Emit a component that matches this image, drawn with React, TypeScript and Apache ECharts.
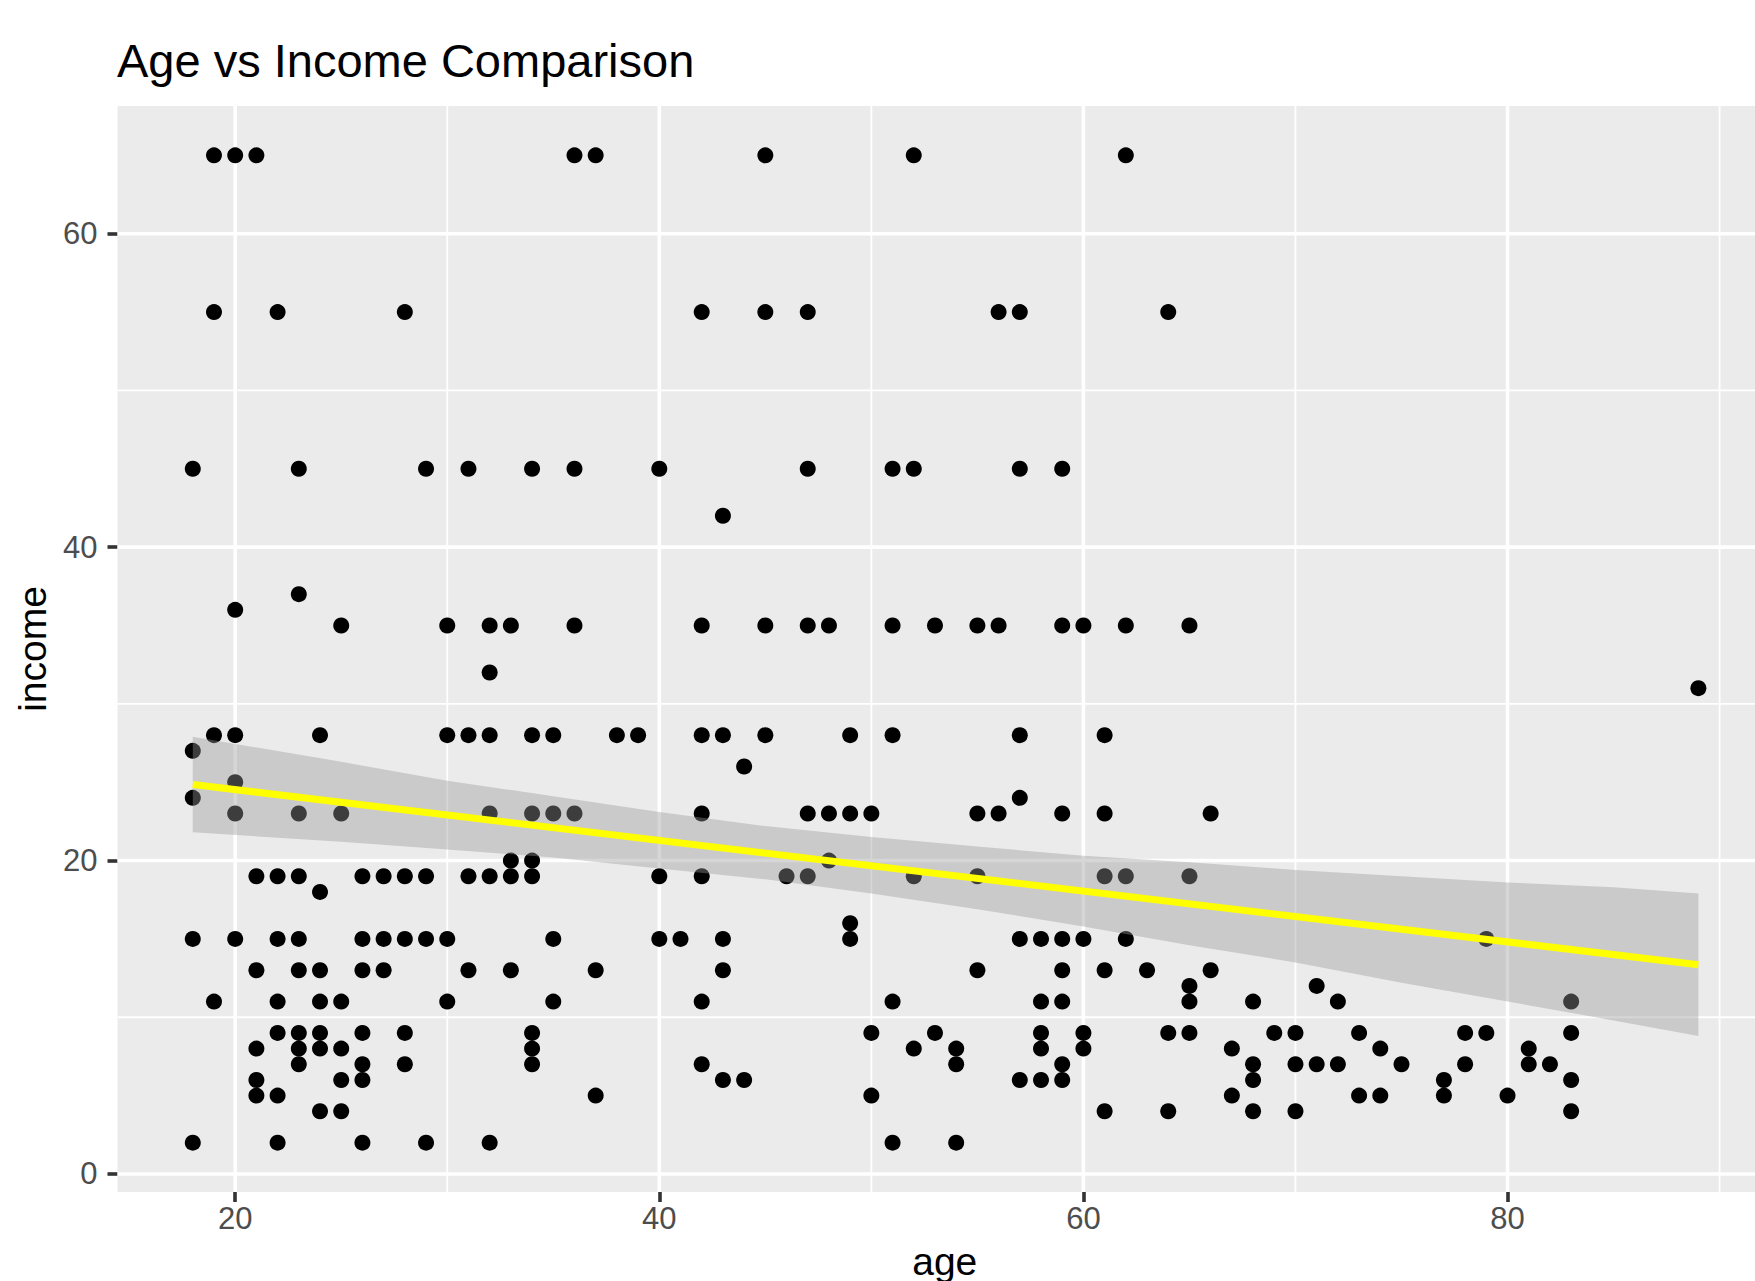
import React, { useEffect, useRef } from "react";
import * as echarts from "echarts";

// Observations, grouped by income level: each list holds the ages seen at that income.
const incomeLevels: number[] = [65, 55, 45, 42, 37, 36, 35, 32, 31, 28, 27, 26, 25, 24, 23, 20, 19, 18, 16, 15, 13, 12, 11, 9, 8, 7, 6, 5, 4, 2];
const agesByIncome: number[][] = [
  [19, 20, 21, 36, 37, 45, 52, 62],
  [19, 22, 28, 42, 45, 47, 56, 57, 64],
  [18, 23, 29, 31, 34, 36, 40, 47, 51, 52, 57, 59],
  [43],
  [23],
  [20],
  [25, 30, 32, 33, 36, 42, 45, 47, 48, 51, 53, 55, 56, 59, 60, 62, 65],
  [32],
  [89],
  [19, 20, 24, 30, 31, 32, 34, 35, 38, 39, 42, 43, 45, 49, 51, 57, 61],
  [18],
  [44],
  [20],
  [18, 57],
  [20, 23, 25, 32, 34, 35, 36, 42, 47, 48, 49, 50, 55, 56, 59, 61, 66],
  [33, 34, 48],
  [21, 22, 23, 26, 27, 28, 29, 31, 32, 33, 34, 40, 42, 46, 47, 52, 55, 61, 62, 65],
  [24],
  [49],
  [18, 20, 22, 23, 26, 27, 28, 29, 30, 35, 40, 41, 43, 49, 57, 58, 59, 60, 62, 79],
  [21, 23, 24, 26, 27, 31, 33, 37, 43, 55, 59, 61, 63, 66],
  [65, 71],
  [19, 22, 24, 25, 30, 35, 42, 51, 58, 59, 65, 68, 72, 83],
  [22, 23, 24, 26, 28, 34, 50, 53, 58, 60, 64, 65, 69, 70, 73, 78, 79, 83],
  [21, 23, 24, 25, 34, 52, 54, 58, 60, 67, 74, 81],
  [23, 26, 28, 34, 42, 54, 59, 68, 70, 71, 72, 75, 78, 81, 82],
  [21, 25, 26, 43, 44, 57, 58, 59, 68, 77, 83],
  [21, 22, 37, 50, 67, 73, 74, 77, 80],
  [24, 25, 61, 64, 68, 70, 83],
  [18, 22, 26, 29, 32, 51, 54],
];

// Linear fit (income ~ age) and its confidence band.
const fitAges: number[] = [18, 89];
const fitIncome: number[] = [24.85, 13.35];
const bandAges: number[] = [18, 25, 30, 35, 40, 45, 50, 55, 60, 65, 70, 75, 80, 85, 89];
const bandUpper: number[] = [27.9, 26.3, 25.1, 24.1, 23.1, 22.2, 21.5, 20.9, 20.3, 19.9, 19.4, 19.0, 18.6, 18.3, 17.9];
const bandLower: number[] = [21.8, 21.2, 20.7, 20.2, 19.5, 18.8, 17.9, 16.9, 15.8, 14.6, 13.5, 12.2, 11.0, 9.8, 8.8];

// Axis breaks.
const ageTicks: number[] = [20, 40, 60, 80];
const ageMinor: number[] = [30, 50, 70, 90];
const incomeTicks: number[] = [0, 20, 40, 60];
const incomeMinor: number[] = [10, 30, 50];

const FONT = "'Liberation Sans', Arial, Helvetica, sans-serif";

function gridLineSeries(values: number[], dir: "x" | "y", width: number) {
  return {
    type: "custom",
    silent: true,
    z: 1,
    clip: false,
    data: values.map((v) => (dir === "x" ? [v, 30] : [50, v])),
    renderItem: (params: any, api: any) => {
      const cs = params.coordSys;
      const p = api.coord([api.value(0), api.value(1)]);
      const shape =
        dir === "x"
          ? { x1: p[0], y1: cs.y, x2: p[0], y2: cs.y + cs.height }
          : { x1: cs.x, y1: p[1], x2: cs.x + cs.width, y2: p[1] };
      return { type: "line", shape, style: { stroke: "#FFFFFF", lineWidth: width } };
    },
  };
}

export default function App() {
  const ref = useRef<HTMLDivElement>(null);

  useEffect(() => {
    if (!ref.current) return;
    const chart = echarts.init(ref.current, undefined, { renderer: "svg" });

    const points: number[][] = [];
    incomeLevels.forEach((inc, i) => {
      agesByIncome[i].forEach((a) => points.push([a, inc]));
    });

    const tickStyle = { show: true, length: 10, lineStyle: { color: "#333333", width: 3.6 } };
    const labelStyle = { color: "#4D4D4D", fontSize: 31, fontFamily: FONT };

    chart.setOption({
      animation: false,
      backgroundColor: "#FFFFFF",
      textStyle: { fontFamily: FONT },
      title: {
        text: "Age vs Income Comparison",
        left: 117,
        top: 37,
        padding: 0,
        textStyle: { fontSize: 47, fontWeight: "normal", color: "#000000", fontFamily: FONT },
      },
      grid: {
        left: 117.5,
        top: 106,
        right: 0,
        bottom: 89,
        show: true,
        backgroundColor: "#EBEBEB",
        borderWidth: 0,
        containLabel: false,
        outerBoundsMode: "none",
      },
      xAxis: {
        type: "value",
        min: 14.45,
        max: 91.67,
        name: "age",
        nameLocation: "middle",
        nameGap: 50,
        nameTextStyle: { fontSize: 39, color: "#000000", fontFamily: FONT, padding: [0, 0, 0, 17] },
        axisLine: { show: false, onZero: false },
        axisTick: { ...tickStyle, customValues: ageTicks },
        axisLabel: { ...labelStyle, margin: 11, customValues: ageTicks },
        splitLine: { show: false },
      },
      yAxis: {
        type: "value",
        min: -1.15,
        max: 68.15,
        name: "income",
        nameLocation: "middle",
        nameRotate: 90,
        nameGap: 60,
        nameTextStyle: { fontSize: 39, color: "#000000", fontFamily: FONT },
        axisLine: { show: false, onZero: false },
        axisTick: { ...tickStyle, customValues: incomeTicks },
        axisLabel: { ...labelStyle, margin: 20, customValues: incomeTicks },
        splitLine: { show: false },
      },
      series: [
        gridLineSeries(ageMinor, "x", 1.8),
        gridLineSeries(incomeMinor, "y", 1.8),
        gridLineSeries(ageTicks, "x", 3.6),
        gridLineSeries(incomeTicks, "y", 3.6),
        {
          type: "scatter",
          z: 2,
          data: points,
          symbol: "circle",
          symbolSize: 16,
          itemStyle: { color: "#000000", opacity: 1 },
          silent: true,
        },
        {
          type: "custom",
          z: 3,
          silent: true,
          data: [[bandAges[0], bandUpper[0]]],
          renderItem: (_params: any, api: any) => {
            const top = bandAges.map((a, i) => api.coord([a, bandUpper[i]]));
            const bottom = bandAges.map((a, i) => api.coord([a, bandLower[i]])).reverse();
            return {
              type: "polygon",
              shape: { points: top.concat(bottom) },
              style: { fill: "rgba(153,153,153,0.4)" },
            };
          },
        },
        {
          type: "line",
          z: 4,
          silent: true,
          data: fitAges.map((a, i) => [a, fitIncome[i]]),
          symbol: "none",
          lineStyle: { color: "#FFFF00", width: 7 },
        },
      ],
    });

    return () => chart.dispose();
  }, []);

  return (
    <div
      ref={ref}
      style={{ position: "absolute", left: 0, top: 0, width: 1755, height: 1281 }}
    />
  );
}
